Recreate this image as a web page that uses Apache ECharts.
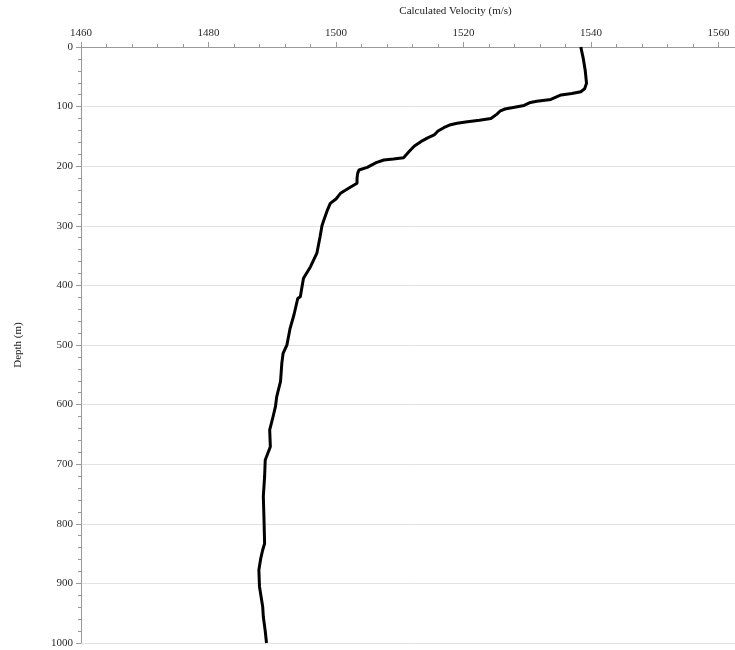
<!DOCTYPE html>
<html>
<head>
<meta charset="utf-8">
<script src="https://cdn.jsdelivr.net/npm/echarts@6/dist/echarts.min.js"></script>
<style>
html,body{margin:0;padding:0;background:#fff;}
#chart{width:735px;height:650px;}
</style>
</head>
<body>
<div id="chart"></div>
<script>
var depths = [0,20,40,61,70,75,78,80.5,84,88,91,93,98,101,104,107,113,120,123,125.3,128,131,135.4,141,147.6,153,158.8,166,175,185.7,188,189.6,194,201.9,206.4,212,220,228.7,235,245.5,255,262.3,275,290.3,300,318.3,346,368.6,388,391,419,422,449.7,472,500,514,530.8,561,586.7,603.5,625.8,642.6,670.6,693,721,754,790,833,844,858,877.5,905.5,939,956,980,1000];
var velocities = [1538.4,1538.8,1539.1,1539.3,1539.0,1538.4,1537.0,1535.3,1534.5,1533.7,1531.5,1530.5,1529.5,1528,1526.5,1525.8,1525.2,1524.3,1522.5,1520.6,1519,1517.8,1516.9,1516.0,1515.4,1514.3,1513.3,1512.3,1511.5,1510.6,1509.0,1507.5,1506.3,1504.9,1503.6,1503.4,1503.3,1503.3,1502.3,1500.7,1500.0,1499.1,1498.6,1498.1,1497.8,1497.5,1497.0,1496.0,1494.9,1495.2,1494.4,1494.0,1493.4,1492.8,1492.3,1491.7,1491.5,1491.3,1490.7,1490.5,1490.0,1489.6,1489.7,1488.9,1488.8,1488.6,1488.7,1488.8,1488.5,1488.2,1487.9,1488.0,1488.5,1488.6,1488.9,1489.1];
var xTitle = 'Calculated Velocity (m/s)';
var yTitle = 'Depth (m)';

var pts = depths.map(function(d, i){ return [velocities[i], d]; });
var chart = echarts.init(document.getElementById('chart'), null, {renderer:'canvas'});
var font = '"Liberation Serif", "Times New Roman", serif';
function plain(v){ return String(v); }
chart.setOption({
  animation: false,
  backgroundColor: '#fff',
  grid: {left: 81, top: 47, right: -111, bottom: 7, containLabel: false, outerBoundsMode: 'none'},
  xAxis: {
    type: 'value', position: 'top', min: 1460, max: 1580, interval: 20,
    name: xTitle, nameLocation: 'middle', nameGap: 30,
    nameTextStyle: {fontFamily: font, fontSize: 11, color: '#222', padding: [0, 16, 0, 0]},
    axisLine: {show: true, lineStyle: {color: '#999', width: 1}},
    axisTick: {show: true, length: 5, lineStyle: {color: '#999'}},
    minorTick: {show: true, splitNumber: 5, length: 3, lineStyle: {color: '#999'}},
    axisLabel: {fontFamily: font, fontSize: 11, color: '#2a2a2a', margin: 8, formatter: plain},
    splitLine: {show: false}
  },
  yAxis: {
    type: 'value', inverse: true, min: 0, max: 1000, interval: 100,
    name: yTitle, nameLocation: 'middle', nameGap: 57,
    nameTextStyle: {fontFamily: font, fontSize: 11, color: '#222'},
    axisLine: {show: true, lineStyle: {color: '#999', width: 1}},
    axisTick: {show: true, length: 5, lineStyle: {color: '#999'}},
    minorTick: {show: true, splitNumber: 5, length: 3, lineStyle: {color: '#999'}},
    axisLabel: {fontFamily: font, fontSize: 11, color: '#2a2a2a', margin: 8, formatter: plain},
    splitLine: {show: true, lineStyle: {color: '#e2e2e2', width: 1}}
  },
  series: [{
    type: 'line',
    data: pts,
    showSymbol: false,
    symbol: 'none',
    lineStyle: {color: '#000', width: 3},
    clip: true
  }]
});
</script>
</body>
</html>
